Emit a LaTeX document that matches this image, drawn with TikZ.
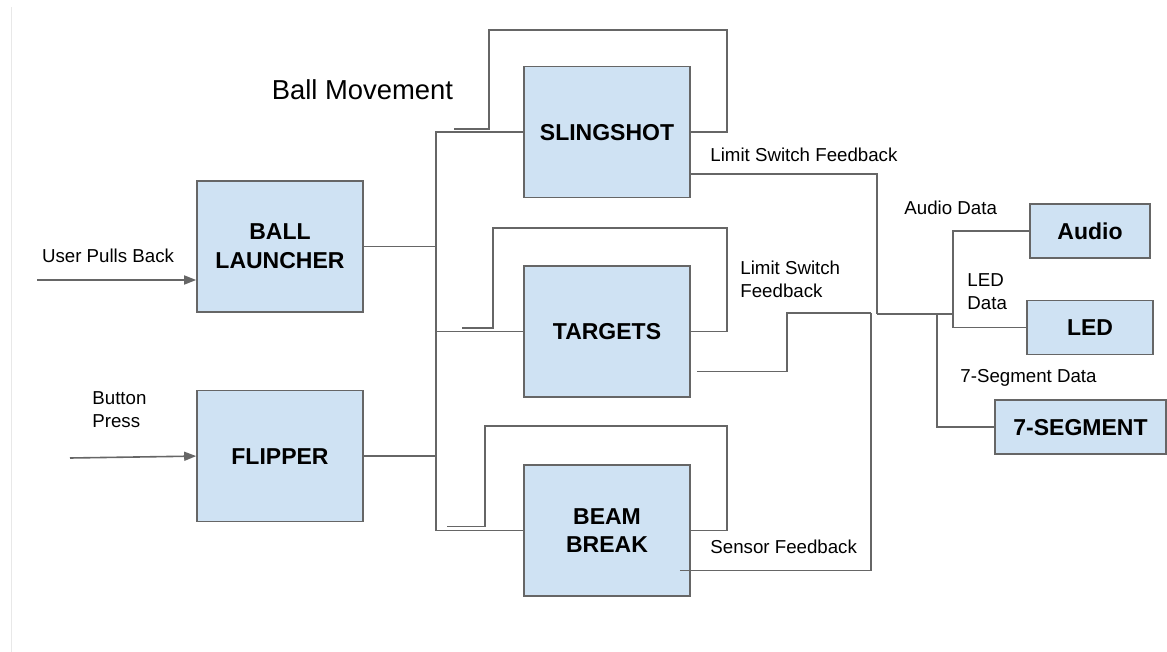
\documentclass[tikz,border=0pt]{standalone}
\usepackage{fontspec}
\setmainfont{Liberation Sans}
\usepackage{xcolor}
\usetikzlibrary{arrows.meta,positioning}

\definecolor{boxblue}{HTML}{CFE2F3}
\definecolor{wiregray}{HTML}{666666}

\begin{document}
\begin{tikzpicture}[x=0.5pt,y=-0.5pt,>={Triangle[length=6pt,width=4.5pt]},
  node distance=33.3pt,
  block/.style={rectangle,draw=wiregray,fill=boxblue,line width=0.8pt,
    minimum width=83pt,minimum height=65.5pt,inner sep=0pt,align=center,
    font=\fontsize{11.5}{14.3}\selectfont\bfseries},
  wire/.style={draw=wiregray,line width=0.8pt},
  lbl/.style={inner sep=0pt,align=left,font=\fontsize{9.35}{11.5}\selectfont}]

\useasboundingbox (0,0) rectangle (1167,652);
\draw[black!9,line width=0.6pt] (11.7,7) -- (11.7,652);

% inputs
\node[block] (Launcher) at (280,246.5) {BALL\\LAUNCHER};
\node[block] (Flipper) [below=38.5pt of Launcher] {FLIPPER};

% playfield blocks
\node[block] (Sling) at (607,132.2) {SLINGSHOT};
\node[block] (Targets) [below=of Sling] {TARGETS};
\node[block] (Beam) [below=of Targets] {BEAM\\BREAK};

% outputs
\node[block,minimum width=60pt,minimum height=27pt] (Audio) at (1090,231) {Audio};
\node[block,minimum width=63pt,minimum height=27pt] (LED) [below=20.5pt of Audio] {LED};
\node[block,minimum width=85.5pt,minimum height=27pt] (Seg) at (1080.5,427.2) {7-SEGMENT};

% labels
\node[lbl,font=\fontsize{13.7}{16}\selectfont] (l_move) at (362.5,90) {Ball Movement};
\node[lbl] (l_pull) at (108,256) {User Pulls Back};
\node[lbl,anchor=west] (l_press) at (92,409.5) {Button\\Press};
\node[lbl,anchor=west] (l_sling) at (710,155) {Limit Switch Feedback};
\node[lbl,anchor=west] (l_targ) at (740,279.6) {Limit Switch\\Feedback};
\node[lbl,anchor=west] (l_beam) at (710,546.7) {Sensor Feedback};
\node[lbl,anchor=west] (l_audio) at (904,208) {Audio Data};
\node[lbl,anchor=west] (l_led) at (967,291.7) {LED\\Data};
\node[lbl,anchor=west] (l_seg) at (960,378) {7-Segment Data};

% user input
\coordinate (pull) at (37,280);
\coordinate (press) at (70,458);
\draw[wire,->] (pull) -- (pull -| Launcher.west);
\draw[wire,->] (press) -- (Flipper.west);

% ball movement bus
\coordinate (bus) at (436,0);
\draw[wire] (Launcher.east) -- (Launcher.east -| bus);
\draw[wire] (Flipper.east) -- (Flipper.east -| bus);
\draw[wire] (Sling.west) -| (bus |- Beam.west) -- (Beam.west);
\draw[wire] (bus |- Targets.west) -- (Targets.west);

% loops back to the bus
\coordinate (s_ret) at (454,129);
\coordinate (t_ret) at (462,328);
\coordinate (b_ret) at (447,526.5);
\draw[wire] (Sling.east) -- ++(36,0) |- (489,30) |- (s_ret);
\draw[wire] (Targets.east) -- ++(36,0) |- (493,228) |- (t_ret);
\draw[wire] (Beam.east) -- ++(36,0) |- (485,426) |- (b_ret);

% feedback lines
\coordinate (hub) at (877,314);
\coordinate (tap) at (871,313);
\draw[wire] ([yshift=-21pt]Sling.east) -| (hub);
\draw[wire] ([xshift=3pt,yshift=-20pt]Targets.east) -| (787,313) -- (tap);
\draw[wire] ([xshift=-5.5pt,yshift=-20pt]Beam.east) -| (tap);

% data to the outputs
\coordinate (split) at (953,0);
\coordinate (segtap) at (937,314);
\draw[wire,line width=1.3pt] (hub) -- (hub -| split);
\draw[wire] (Audio.west) -| (LED.west -| split) -- (LED.west);
\draw[wire] (segtap) |- (Seg.west);
\end{tikzpicture}
\end{document}
